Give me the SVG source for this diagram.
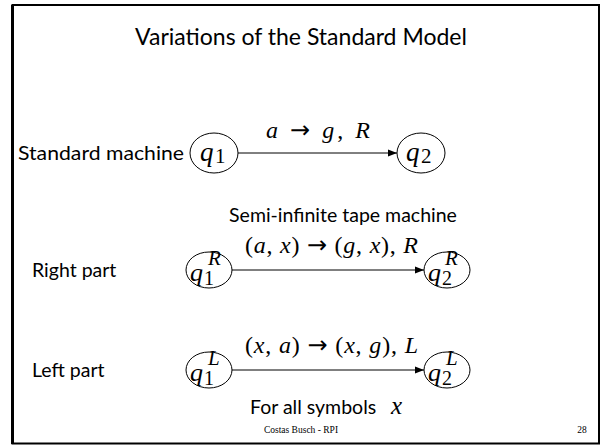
<svg xmlns="http://www.w3.org/2000/svg" width="602" height="447" viewBox="0 0 602 447">
<style>
.sans{font-family:"Lato","Open Sans","Liberation Sans",sans-serif;fill:#000}
.math{font-family:"Liberation Serif",serif;font-style:italic;fill:#000}
.up{font-family:"Liberation Serif",serif;font-style:normal;fill:#000}
.arr{font-family:"DejaVu Sans",sans-serif;font-style:normal}
.node{fill:#fff;stroke:#000;stroke-width:1}
.edge{stroke:#000;stroke-width:1;fill:none;marker-end:url(#ah)}
</style>
<defs>
<marker id="ah" viewBox="0 0 10 10" refX="10" refY="5" markerWidth="9" markerHeight="9" markerUnits="userSpaceOnUse" orient="auto"><path d="M0,1 L10,5 L0,9 z" fill="#000"/></marker>
</defs>
<rect x="0" y="0" width="602" height="447" fill="#fff"/>
<rect x="12.5" y="5" width="586.5" height="438.5" fill="none" stroke="#000" stroke-width="2"/>
<line x1="12.5" y1="5" x2="12.5" y2="444" stroke="#000" stroke-width="3"/>
<text class="sans" x="301" y="45" font-size="23" text-anchor="middle">Variations of the Standard Model</text>
<text class="sans" x="18" y="160" font-size="20" textLength="166" lengthAdjust="spacingAndGlyphs">Standard machine</text>
<text class="sans" x="343" y="222" font-size="19.5" text-anchor="middle">Semi-infinite tape machine</text>
<text class="sans" x="32" y="277" font-size="19.5">Right part</text>
<text class="sans" x="32" y="377" font-size="19.5">Left part</text>
<text class="sans" x="250" y="414" font-size="19.5">For all symbols</text>
<text class="math" x="391" y="414" font-size="25">x</text>
<text class="up" x="301" y="433" font-size="9.5" text-anchor="middle">Costas Busch - RPI</text>
<text class="up" x="582" y="433" font-size="9.5" text-anchor="middle">28</text>
<g id="connectors">
<path class="edge" d="M238,153 H397"/>
<path class="edge" d="M232,270 H424"/>
<path class="edge" d="M232,370 H424"/>
<text class="math" x="266" y="138" font-size="24" textLength="104" lengthAdjust="spacing">a <tspan class="arr">→</tspan> g<tspan class="up">,</tspan> R</text>
<text class="math" x="245" y="253" font-size="24" textLength="173" lengthAdjust="spacing"><tspan class="up">(</tspan>a<tspan class="up">, </tspan>x<tspan class="up">) </tspan><tspan class="arr">→</tspan><tspan class="up"> (</tspan>g<tspan class="up">, </tspan>x<tspan class="up">),</tspan> R</text>
<text class="math" x="245" y="353" font-size="24" textLength="173" lengthAdjust="spacing"><tspan class="up">(</tspan>x<tspan class="up">, </tspan>a<tspan class="up">) </tspan><tspan class="arr">→</tspan><tspan class="up"> (</tspan>x<tspan class="up">, </tspan>g<tspan class="up">),</tspan> L</text>
</g>
<g id="q1">
<ellipse class="node" cx="214" cy="153" rx="24" ry="20"/>
<text class="math" x="200" y="161" font-size="27">q</text>
<text class="up" x="215" y="163" font-size="21">1</text>
</g>
<g id="q2">
<ellipse class="node" cx="421" cy="153" rx="24" ry="20"/>
<text class="math" x="406" y="161" font-size="27">q</text>
<text class="up" x="421" y="163" font-size="21">2</text>
</g>
<g id="q1R">
<ellipse class="node" cx="209" cy="270" rx="23" ry="18"/>
<text class="math" x="190" y="281" font-size="26">q</text>
<text class="up" x="204" y="285" font-size="20">1</text>
<text class="math" x="208" y="265" font-size="21">R</text>
</g>
<g id="q2R">
<ellipse class="node" cx="447" cy="270" rx="23" ry="18"/>
<text class="math" x="428" y="281" font-size="26">q</text>
<text class="up" x="442" y="285" font-size="20">2</text>
<text class="math" x="445" y="265" font-size="21">R</text>
</g>
<g id="q1L">
<ellipse class="node" cx="209" cy="370" rx="23" ry="18"/>
<text class="math" x="190" y="381" font-size="26">q</text>
<text class="up" x="204" y="385" font-size="20">1</text>
<text class="math" x="208" y="365" font-size="21">L</text>
</g>
<g id="q2L">
<ellipse class="node" cx="447" cy="370" rx="23" ry="18"/>
<text class="math" x="428" y="381" font-size="26">q</text>
<text class="up" x="442" y="385" font-size="20">2</text>
<text class="math" x="446" y="365" font-size="21">L</text>
</g>
</svg>
